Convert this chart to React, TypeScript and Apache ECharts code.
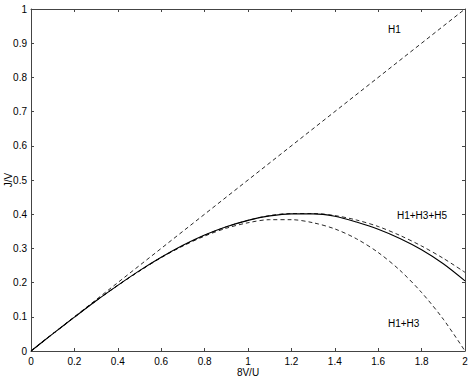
import React, { useEffect, useRef } from "react";
import * as echarts from "echarts";

const xValues = [0, 0.1, 0.2, 0.3, 0.4, 0.5, 0.6, 0.7, 0.8, 0.9, 1.0, 1.1, 1.2, 1.3, 1.4, 1.5, 1.6, 1.7, 1.8, 1.9, 2.0];
const exact = [0, 0.05, 0.099, 0.147, 0.192, 0.235, 0.274, 0.309, 0.339, 0.363, 0.382, 0.395, 0.401, 0.401, 0.394, 0.377, 0.356, 0.329, 0.296, 0.255, 0.205];
const h1h3h5 = [0, 0.05, 0.099, 0.147, 0.192, 0.234, 0.274, 0.308, 0.338, 0.363, 0.382, 0.396, 0.402, 0.402, 0.396, 0.383, 0.364, 0.338, 0.307, 0.271, 0.23];
const h1h3 = [0, 0.05, 0.099, 0.147, 0.192, 0.234, 0.273, 0.307, 0.336, 0.359, 0.375, 0.384, 0.384, 0.375, 0.357, 0.328, 0.288, 0.236, 0.171, 0.093, 0];
const h1X = [0, 2];
const h1Y = [0, 1];
const xTicks = { min: 0, max: 2, interval: 0.2 };
const yTicks = { min: 0, max: 1, interval: 0.1 };

const pairs = (xs: number[], ys: number[]) => xs.map((x, i) => [x, ys[i]]);

export default function App() {
  const ref = useRef<HTMLDivElement>(null);
  useEffect(() => {
    if (!ref.current) return;
    const chart = echarts.init(ref.current, null, { renderer: "svg" });
    const font = "Liberation Sans, Arial, sans-serif";
    const frame = { show: true, onZero: false, lineStyle: { color: "#444", width: 1 } };
    const ticks = { show: true, inside: true, length: 3, lineStyle: { color: "#444", width: 1 } };
    const dashed = { color: "#111", width: 0.9, type: [4, 3] as any };
    chart.setOption({
      animation: false,
      backgroundColor: "#fff",
      grid: { left: 31, right: 7, top: 9, bottom: 26, containLabel: false, outerBoundsMode: "none" },
      xAxis: [
        {
          type: "value", ...xTicks, position: "bottom",
          axisLine: frame, axisTick: ticks, splitLine: { show: false },
          axisLabel: { color: "#000", fontFamily: font, fontSize: 10, margin: 5 },
          name: "8V/U", nameLocation: "middle", nameGap: 16, nameMoveOverlap: false,
          nameTextStyle: { color: "#000", fontFamily: font, fontSize: 10 },
        },
        {
          type: "value", ...xTicks, position: "top",
          axisLine: frame, axisTick: ticks, splitLine: { show: false },
          axisLabel: { show: false },
        },
      ],
      yAxis: [
        {
          type: "value", ...yTicks, position: "left",
          axisLine: frame, axisTick: ticks, splitLine: { show: false },
          axisLabel: { color: "#000", fontFamily: font, fontSize: 10, margin: 4 },
          name: "J/V", nameLocation: "middle", nameGap: 18, nameMoveOverlap: false,
          nameTextStyle: { color: "#000", fontFamily: font, fontSize: 10 },
        },
        {
          type: "value", ...yTicks, position: "right",
          axisLine: frame, axisTick: ticks, splitLine: { show: false },
          axisLabel: { show: false },
        },
      ],
      series: [
        {
          name: "H1", type: "line", data: pairs(h1X, h1Y), showSymbol: false,
          lineStyle: dashed, silent: true,
        },
        {
          name: "H1+H3", type: "line", data: pairs(xValues, h1h3), smooth: 0.3, showSymbol: false,
          lineStyle: dashed, silent: true,
        },
        {
          name: "H1+H3+H5", type: "line", data: pairs(xValues, h1h3h5), smooth: 0.3, showSymbol: false,
          lineStyle: dashed, silent: true,
        },
        {
          name: "exact", type: "line", data: pairs(xValues, exact), smooth: 0.3, showSymbol: false,
          lineStyle: { color: "#000", width: 1.1 }, silent: true,
        },
      ],
      graphic: [
        { type: "text", left: 388, top: 24, style: { text: "H1", fill: "#000", font: `10px ${font}` } },
        { type: "text", left: 397, top: 210, style: { text: "H1+H3+H5", fill: "#000", font: `10px ${font}` } },
        { type: "text", left: 388, top: 318, style: { text: "H1+H3", fill: "#000", font: `10px ${font}` } },
      ],
    });
    return () => chart.dispose();
  }, []);
  return <div ref={ref} style={{ width: 472, height: 377, position: "absolute", left: 0, top: 0 }} />;
}
